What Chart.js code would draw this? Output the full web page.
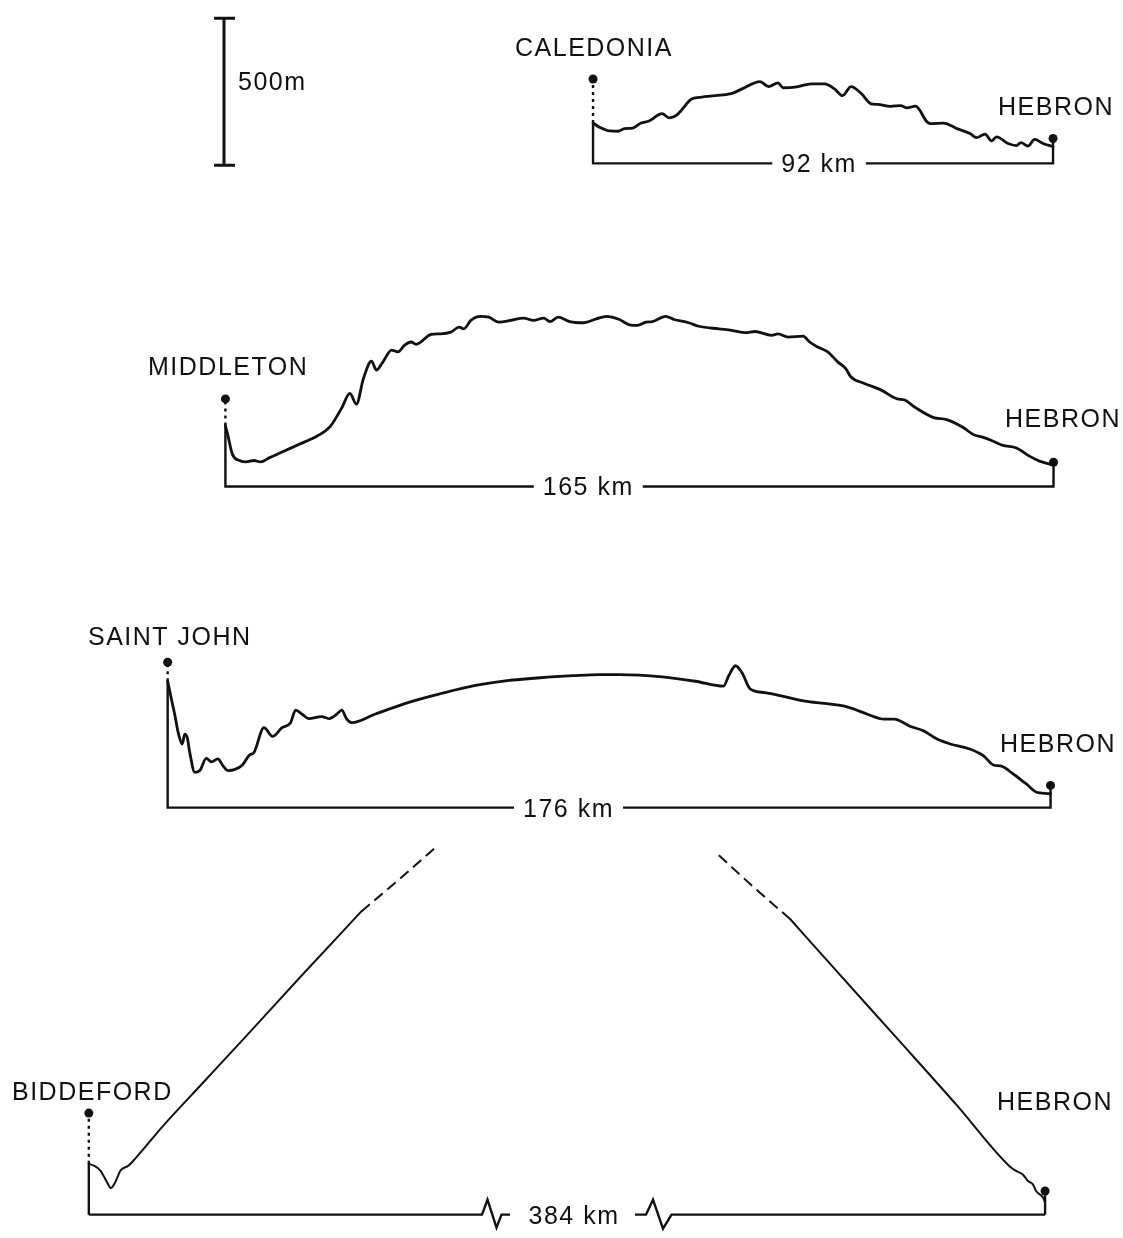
<!DOCTYPE html>
<html>
<head>
<meta charset="utf-8">
<script src="https://cdn.jsdelivr.net/npm/chart.js@4.4.1/dist/chart.umd.min.js"></script>
<style>
  html, body { margin: 0; background: #fff; }
  #wrap { position: relative; width: 1123px; height: 1238px; }
</style>
</head>
<body>
<div id="wrap"><canvas id="profiles" width="1123" height="1238"></canvas></div>
<script>
/* Path profiles to Hebron: terrain height above the straight chord (m)
   against distance along the path (km). One canvas, one pair of hidden
   scales per strip so every strip shares the 500 m vertical bar. */

const INK = "#111";
const FONT = '25px "Liberation Sans", Arial, Helvetica, sans-serif';
const W = 1123, H = 1238;
const PX_PER_M = 147 / 500;

const SCALE_BAR_M = 500;
const PATH_KM = [92, 165, 176, 384];
const SITE_MAST_M = [289, 300, 498, 348];
const HEBRON_MAST_M = [85, 83, 76, 81];

// Caledonia - Hebron
const CAL_KM = [0, 1.3, 3.3, 5.0, 6.3, 7.9, 9.6, 11.2, 13.8, 15.2, 16.9, 19.8, 21.8, 24.5, 27.8, 29.8, 33.4, 35.1, 37.0, 38.0,
  40.4, 43.7, 46.3, 48.3, 49.9, 51.6, 53.6, 55.6, 56.9, 59.5, 61.5, 62.8, 64.5, 66.8, 67.5, 70.1, 72.8, 75.4, 76.7, 78.4,
  79.7, 80.7, 83.0, 84.7, 85.6, 87.0, 88.3, 90.0, 92];
const CAL_M = [138, 124, 111, 110, 119, 121, 138, 145, 170, 156, 168, 221, 227, 232, 240, 255, 280, 263, 276, 259,
  261, 272, 272, 255, 232, 263, 240, 204, 202, 195, 198, 190, 196, 142, 136, 138, 119, 102, 88, 100,
  77, 91, 68, 61, 71, 59, 82, 68, 57];

// Middleton - Hebron
const MID_KM = [0, 0.45, 1.4, 2.8, 4.1, 5.7, 7.0, 8.7, 11.3, 14.6, 18.2, 20.9, 23.2, 24.8, 26.1, 27.5, 29.1, 30.1, 31.4, 33.1,
  34.4, 35.7, 37.0, 38.0, 41.0, 42.9, 44.9, 46.6, 47.5, 48.9, 50.8, 52.5, 54.5, 56.8, 59.4, 61.4, 63.4, 64.7, 66.3, 68.6,
  71.3, 73.9, 75.9, 78.5, 80.5, 82.1, 83.8, 85.1, 87.7, 89.4, 92.3, 94.3, 98.3, 100.9, 103.6, 105.5, 108.8, 110.1, 112.1, 115.1,
  116.4, 118.0, 120.0, 122.0, 123.6, 124.6, 127.3, 130.6, 133.9, 135.2, 137.5, 141.1, 143.7, 147.0, 149.0, 151.0, 153.0, 154.9, 157.6, 160.2,
  162.2, 165];
const MID_M = [209, 178, 110, 89, 84, 89, 84, 98, 118, 144, 172, 206, 270, 319, 282, 370, 429, 399, 427, 467,
  461, 484, 495, 487, 521, 523, 529, 546, 540, 569, 583, 580, 563, 569, 577, 569, 577, 565, 580, 565,
  561, 574, 583, 572, 554, 552, 563, 565, 583, 572, 561, 549, 540, 535, 527, 531, 518, 523, 512, 515,
  495, 478, 461, 427, 404, 376, 353, 331, 300, 297, 270, 236, 229, 202, 178, 168, 155, 141, 132, 104,
  87, 73];

// Saint John - Hebron
const STJ_KM = [0, 0.75, 1.4, 2.1, 2.9, 3.4, 3.9, 4.4, 5.4, 6.4, 7.7, 8.7, 10.0, 11.0, 12.0, 13.3, 14.9, 16.3, 17.2, 19.2,
  20.9, 22.8, 24.5, 25.5, 26.8, 28.1, 30.7, 32.1, 33.7, 34.7, 35.7, 36.7, 41.3, 47.9, 54.5, 61.1, 67.7, 74.3, 80.8, 86.1,
  90.1, 98.6, 105.2, 110.8, 111.8, 113.2, 114.5, 116.1, 119.1, 123.0, 127.0, 130.9, 134.9, 136.9, 139.5, 142.8, 144.8, 148.1, 150.7, 153.4,
  156.0, 159.9, 162.6, 164.6, 166.2, 168.5, 171.1, 173.5, 176];
const STJ_M = [433, 371, 320, 257, 218, 252, 240, 189, 121, 127, 169, 157, 167, 144, 127, 130, 146, 180, 189, 274,
  244, 274, 291, 334, 320, 305, 312, 305, 320, 334, 303, 291, 320, 360, 391, 418, 435, 445, 452, 456,
  456, 448, 433, 416, 450, 486, 462, 407, 394, 380, 365, 357, 348, 337, 320, 303, 303, 278, 263, 235,
  218, 201, 178, 146, 142, 116, 82, 51, 48];

// Biddeford - Hebron (middle of the path left out)
const BID_KM = [0, 1.0, 2.3, 3.6, 4.4, 5.3, 6.3, 7.9, 9.2, 14.8, 22.7, 31.3, 42.5, 54.3];
const BID_M = [174, 168, 151, 112, 91, 112, 151, 168, 191, 304, 451, 611, 821, 1039];
const BID_DASH_KM = [54.3, 61.1, 68.8];
const BID_DASH_M = [1039, 1138, 1254];
const HEB_DASH_KM = [319.0, 326.2, 333.2];
const HEB_DASH_M = [1231, 1118, 1013];
const HEB_KM = [333.2, 342.7, 354.6, 366.4, 376.9, 378.3, 379.6, 380.6, 381.6, 382.2, 383.6, 384];
const HEB_M = [1013, 830, 602, 375, 166, 149, 137, 115, 103, 81, 58, 41];

/* ---- layout (px) ---- */
const STRIPS = [
  { x0: 593.3, x1: 1057, base: 160, labelKm: 45.2, site: "CALEDONIA", siteAt: [515, 56], hebAt: [998, 115] },
  { x0: 222.7, x1: 1057.5, base: 485.5, labelKm: 72.3, site: "MIDDLETON", siteAt: [148, 375], hebAt: [1005, 427] },
  { x0: 164.5, x1: 1054.5, base: 809, labelKm: 79.9, site: "SAINT JOHN", siteAt: [88, 645], hebAt: [1000, 752] },
  { x0: 85, x1: 1049, base: 1219, ppk: 5.06, site: "BIDDEFORD", siteAt: [12, 1100], hebAt: [997, 1110] },
];
const BAR_X = 224;
const BREAK_L = 482, BREAK_R = 635, BREAK_LABEL_X = 574;

function xScaleFor(x0, ppk) { return { type: "linear", display: false, min: -x0 / ppk, max: (W - x0) / ppk }; }
function yScaleFor(base) { return { type: "linear", display: false, min: -(H - base) / PX_PER_M, max: base / PX_PER_M }; }
function pts(xs, ys) { return xs.map((x, i) => ({ x, y: ys[i] })); }

function path(data, xId, yId, extra = {}) {
  return Object.assign({
    data, xAxisID: xId, yAxisID: yId, showLine: true, borderColor: INK, borderWidth: 2.8,
    pointRadius: 0, cubicInterpolationMode: "monotone", borderJoinStyle: "round", borderCapStyle: "round", clip: false,
  }, extra);
}
const STRAIGHT = { cubicInterpolationMode: "default", tension: 0, borderWidth: 2.4, borderJoinStyle: "miter", borderCapStyle: "butt" };
const DOTTED = Object.assign({}, STRAIGHT, { borderDash: [3, 4] });
function dots(data, xId, yId) {
  return { data, xAxisID: xId, yAxisID: yId, showLine: false, pointRadius: 4.5, pointBackgroundColor: INK, pointBorderWidth: 0, clip: false };
}

const scales = {};
const datasets = [];
const profiles = [[CAL_KM, CAL_M], [MID_KM, MID_M], [STJ_KM, STJ_M]];

STRIPS.forEach((s, i) => {
  const dist = PATH_KM[i];
  const ppk = s.ppk || (s.x1 - s.x0) / dist;
  const yId = "y" + i;
  scales[yId] = yScaleFor(s.base);
  if (i < 3) {
    const xId = "x" + i;
    scales[xId] = xScaleFor(s.x0, ppk);
    const [km, m] = profiles[i];
    datasets.push(path(pts(km, m), xId, yId));
    datasets.push(path([{ x: 0, y: m[0] }, { x: 0, y: 0 }, { x: dist, y: 0 }, { x: dist, y: HEBRON_MAST_M[i] }], xId, yId, STRAIGHT));
    datasets.push(path([{ x: 0, y: m[0] }, { x: 0, y: SITE_MAST_M[i] }], xId, yId, DOTTED));
    datasets.push(dots([{ x: 0, y: SITE_MAST_M[i] }, { x: dist, y: HEBRON_MAST_M[i] }], xId, yId));
  } else {
    const xL = "xL", xR = "xR";
    scales[xL] = xScaleFor(s.x0, ppk);
    scales[xR] = xScaleFor(s.x1 - dist * ppk, ppk);
    const thin = { borderWidth: 2.0 };
    const dashed = { borderWidth: 2.0, borderDash: [11, 6], borderCapStyle: "butt" };
    datasets.push(path(pts(BID_KM, BID_M), xL, yId, thin));
    datasets.push(path(pts(BID_DASH_KM, BID_DASH_M), xL, yId, dashed));
    datasets.push(path(pts(HEB_DASH_KM, HEB_DASH_M), xR, yId, dashed));
    datasets.push(path(pts(HEB_KM, HEB_M), xR, yId, thin));
    datasets.push(path([{ x: 0, y: BID_M[0] }, { x: 0, y: 0 }], xL, yId, STRAIGHT));
    datasets.push(path([{ x: dist, y: 0 }, { x: dist, y: HEBRON_MAST_M[i] }], xR, yId, STRAIGHT));
    datasets.push(path([{ x: 0, y: BID_M[0] }, { x: 0, y: SITE_MAST_M[i] }], xL, yId, DOTTED));
    datasets.push(dots([{ x: 0, y: SITE_MAST_M[i] }], xL, yId));
    datasets.push(dots([{ x: dist, y: HEBRON_MAST_M[i] }], xR, yId));
  }
});

/* ---- text, scale bar, baseline labels ---- */
function gapLabel(ctx, text, cx, by) {
  const w = ctx.measureText(text).width;
  ctx.fillStyle = "#fff";
  ctx.fillRect(cx - w / 2 - 9, by - 5, w + 18, 10);
  ctx.fillStyle = INK;
  ctx.textAlign = "center";
  ctx.fillText(text, cx, by + 9);
  ctx.textAlign = "left";
}

const decor = {
  id: "decor",
  afterDatasetsDraw(chart) {
    const ctx = chart.ctx, sc = chart.scales;
    ctx.save();
    ctx.font = FONT;
    ctx.letterSpacing = "1.5px";
    ctx.fillStyle = INK;
    ctx.strokeStyle = INK;
    ctx.textBaseline = "alphabetic";

    // 500 m bar
    const bot = sc.y0.getPixelForValue(0) + 2;
    const top = bot - SCALE_BAR_M * PX_PER_M;
    ctx.lineWidth = 3;
    ctx.beginPath();
    ctx.moveTo(BAR_X, top); ctx.lineTo(BAR_X, bot);
    ctx.moveTo(BAR_X - 10, top); ctx.lineTo(BAR_X + 11, top);
    ctx.moveTo(BAR_X - 10, bot); ctx.lineTo(BAR_X + 11, bot);
    ctx.stroke();
    ctx.fillText(SCALE_BAR_M + "m", 238, 90);

    STRIPS.forEach((s, i) => {
      ctx.fillText(s.site, s.siteAt[0], s.siteAt[1]);
      ctx.fillText("HEBRON", s.hebAt[0], s.hebAt[1]);
      if (i < 3) {
        const cx = sc["x" + i].getPixelForValue(s.labelKm);
        gapLabel(ctx, PATH_KM[i] + " km", cx, sc["y" + i].getPixelForValue(0));
      }
    });

    // broken baseline of the long path
    const b = sc.y3.getPixelForValue(0);
    const l0 = sc.xL.getPixelForValue(0), r1 = sc.xR.getPixelForValue(PATH_KM[3]);
    ctx.lineWidth = 2.4;
    ctx.lineJoin = "miter";
    ctx.beginPath();
    ctx.moveTo(l0, b); ctx.lineTo(BREAK_L, b);
    ctx.lineTo(BREAK_L + 5.5, b - 15); ctx.lineTo(BREAK_L + 14.5, b + 13);
    ctx.lineTo(BREAK_L + 19.5, b); ctx.lineTo(BREAK_L + 28, b);
    ctx.moveTo(BREAK_R, b); ctx.lineTo(BREAK_R + 11, b);
    ctx.lineTo(BREAK_R + 18, b - 15); ctx.lineTo(BREAK_R + 28, b + 14);
    ctx.lineTo(BREAK_R + 36.5, b); ctx.lineTo(r1, b);
    ctx.stroke();
    ctx.textAlign = "center";
    ctx.fillText(PATH_KM[3] + " km", BREAK_LABEL_X, b + 9);
    ctx.restore();
  },
};

new Chart(document.getElementById("profiles"), {
  type: "scatter",
  data: { datasets },
  options: {
    responsive: false, animation: false, events: [],
    layout: { padding: 0 },
    plugins: { legend: { display: false }, tooltip: { enabled: false } },
    scales,
  },
  plugins: [decor],
});
</script>
</body>
</html>
